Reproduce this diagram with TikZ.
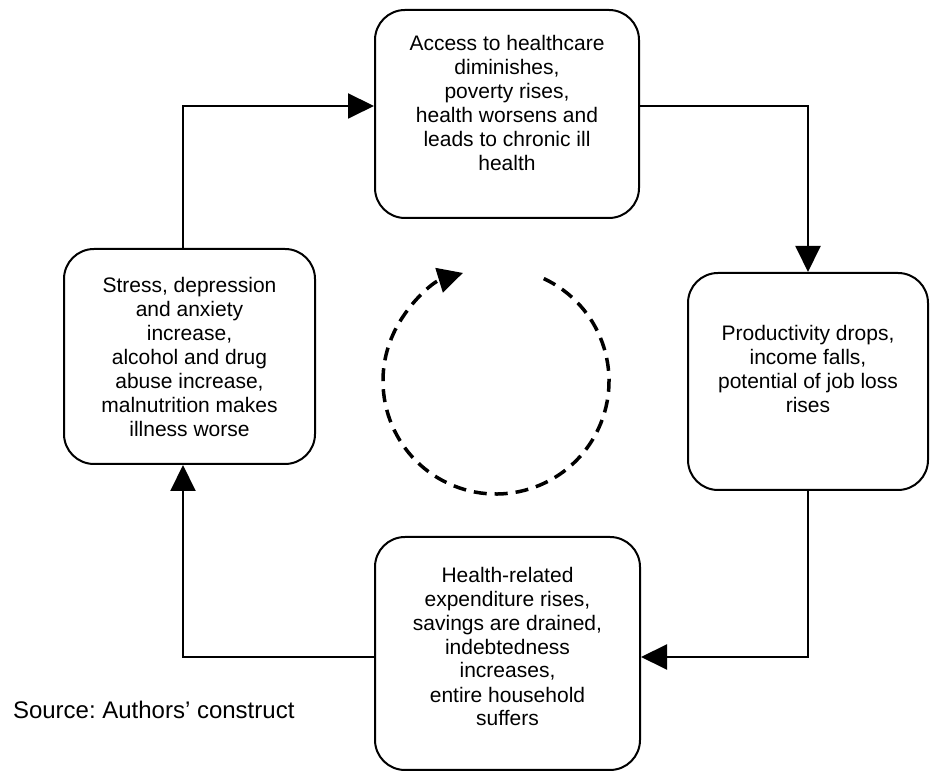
\documentclass[tikz,border=0pt]{standalone}
\usepackage{fontspec}
\setmainfont{Liberation Sans}
\usetikzlibrary{arrows.meta}
\frenchspacing

\begin{document}
\begin{tikzpicture}[x=1pt, y=1pt, line width=2pt, -{Triangle[length=26pt,width=25pt]},
      every node/.append style={font=\fontsize{21}{24}\selectfont},
      loop/.style={dash pattern=on 13pt off 8pt, line width=3.5pt, -{Triangle[length=25pt,width=25pt]}}]
    \tikzstyle{box} = [draw, rounded corners=30pt, inner sep=0pt]
    \tikzstyle{word} = [align=center, inner sep=0pt]
    \useasboundingbox (0,0) rectangle (930,773);
    \node (access) [box, minimum width=264pt, minimum height=208pt] at (507,659) {};
    \node (productivity) [box, minimum width=240pt, minimum height=217pt] at (808,391.5) {};
    \node (expenditure) [box, minimum width=265pt, minimum height=233pt] at (507.5,119.5) {};
    \node (stress) [box, minimum width=251pt, minimum height=215pt] at (189.5,416.5) {};
    \node (accesstext) [word] at (507,670) {Access to healthcare\\diminishes,\\poverty rises,\\health worsens and\\leads to chronic ill\\health};
    \node (productivitytext) [word] at (808,404) {Productivity drops,\\income falls,\\potential of job loss\\rises};
    \node (expendituretext) [word] at (507.5,126.5) {Health-related\\expenditure rises,\\savings are drained,\\indebtedness\\increases,\\entire household\\suffers};
    \node (stresstext) [word] at (189.5,416) {Stress, depression\\and anxiety\\increase,\\alcohol and drug\\abuse increase,\\malnutrition makes\\illness worse};
    \node (source) [anchor=base west, inner sep=0pt, font=\fontsize{24}{28}\selectfont] at (12,54) {Source: Authors’ construct};
    \coordinate (c1) at (183,667);
    \coordinate (c2) at (productivity.north |- c1);
    \coordinate (c3) at (808,116);
    \coordinate (c4) at (c1 |- c3);
    \coordinate (hub) at (496,392);
    \draw (stress.north -| c1) -- (c1) -- (c1 -| access.west);
    \draw (c1 -| access.east) -- (c2) -- (productivity.north);
    \draw (productivity.south) -- (c3) -- (c3 -| expenditure.east);
    \draw (c3 -| expenditure.west) -- (c4) -- (c4 |- stress.south);
    \draw [loop] ([shift={(65:113pt)}]hub) arc [start angle=65, end angle=-253, radius=113pt];
\end{tikzpicture}
\end{document}
